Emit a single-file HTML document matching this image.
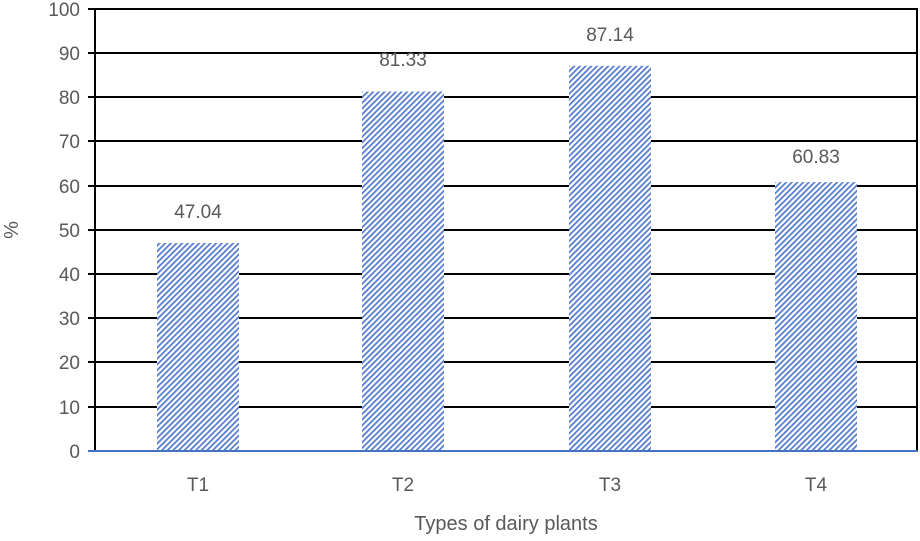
<!DOCTYPE html>
<html><head><style>body{margin:0;background:#fff}</style></head><body>
<svg width="920" height="536" xmlns="http://www.w3.org/2000/svg" font-family="Liberation Sans, sans-serif" fill="#595959">
<defs>
<pattern id="h" width="4" height="4" patternUnits="userSpaceOnUse" patternTransform="rotate(45)">
<rect width="4" height="4" fill="#fff"/>
<rect width="1.7" height="4" fill="#5078c8"/>
</pattern>
</defs>
<g stroke="#000" stroke-width="2">
<line x1="88" y1="9" x2="918" y2="9"/>
<line x1="88" y1="53" x2="918" y2="53"/>
<line x1="88" y1="97" x2="918" y2="97"/>
<line x1="88" y1="141" x2="918" y2="141"/>
<line x1="88" y1="186" x2="918" y2="186"/>
<line x1="88" y1="230" x2="918" y2="230"/>
<line x1="88" y1="274" x2="918" y2="274"/>
<line x1="88" y1="318" x2="918" y2="318"/>
<line x1="88" y1="362" x2="918" y2="362"/>
<line x1="88" y1="407" x2="918" y2="407"/>
<line x1="95" y1="9" x2="95" y2="451"/>
<line x1="917" y1="9" x2="917" y2="451"/>
</g>
<rect x="157" y="243" width="82" height="208" fill="url(#h)"/>
<rect x="362" y="91.5" width="82" height="359.5" fill="url(#h)"/>
<rect x="569" y="65.8" width="82" height="385.2" fill="url(#h)"/>
<rect x="775" y="182.1" width="82" height="268.9" fill="url(#h)"/>
<line x1="88" y1="451" x2="918" y2="451" stroke="#4472c4" stroke-width="2"/>
<g font-size="19" text-anchor="end">
<text x="80" y="16">100</text><text x="80" y="60">90</text><text x="80" y="104">80</text>
<text x="80" y="148">70</text><text x="80" y="193">60</text><text x="80" y="237">50</text>
<text x="80" y="281">40</text><text x="80" y="325">30</text><text x="80" y="369">20</text>
<text x="80" y="414">10</text><text x="80" y="458">0</text>
</g>
<g font-size="19" text-anchor="middle">
<text x="198" y="218">47.04</text><text x="403" y="66">81.33</text>
<text x="610" y="41">87.14</text><text x="816" y="163">60.83</text>
<text x="198" y="491">T1</text><text x="403" y="491">T2</text>
<text x="610" y="491">T3</text><text x="816" y="491">T4</text>
<text x="506" y="530" font-size="20">Types of dairy plants</text>
<text transform="translate(18,230) rotate(-90)" font-size="20">%</text>
</g>
</svg>
</body></html>
